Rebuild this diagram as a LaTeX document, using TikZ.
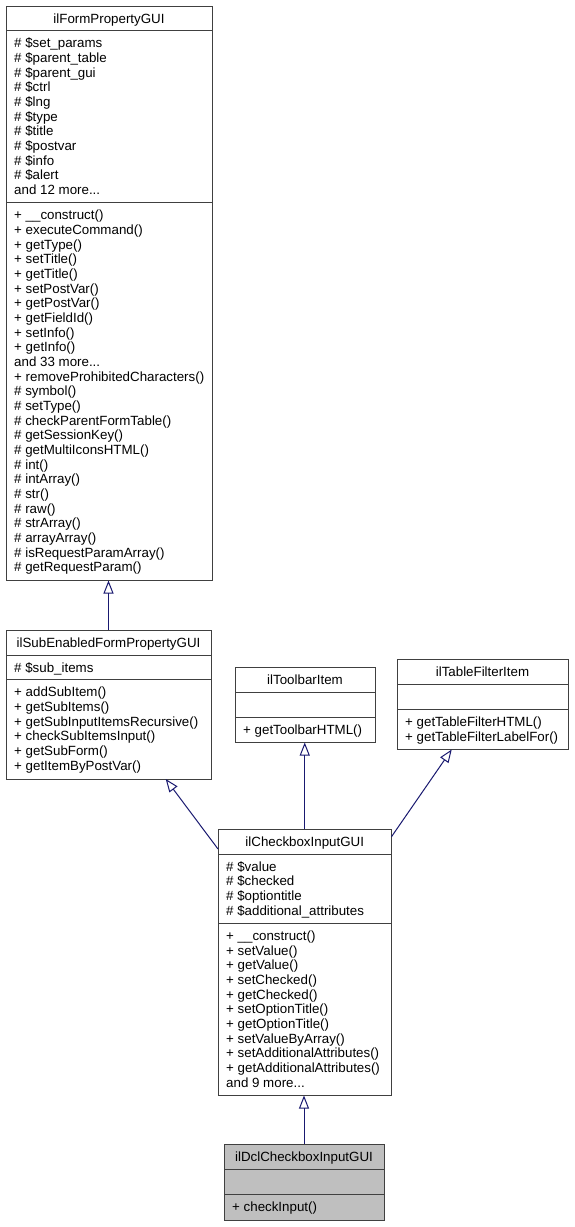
\documentclass[tikz,border=0pt]{standalone}
\usepackage{fontspec}
\setmainfont{Liberation Sans}
\usetikzlibrary{arrows.meta}
\definecolor{boxc}{HTML}{404040}
\definecolor{edgec}{HTML}{191970}
\definecolor{hlc}{HTML}{BFBFBF}
\newcommand\seclines[4]{\foreach \itm [count=\i from 0] in {#4}{\node[txt,anchor=base west] (#1-\i) at ({#2},{#3+\i*14.67}) {\itm};}}
\newcommand\dotsthree{.{}.{}.}
\begin{document}
\begin{tikzpicture}[x=1pt,y=-1pt,
  classbox/.style={draw=boxc,line width=1pt,inner sep=0pt,outer sep=0pt,anchor=north west},
  sepline/.style={draw=boxc,line width=1pt},
  txt/.style={inner sep=0pt,font=\fontsize{13.33}{14.67}\selectfont},
  ttl/.style={txt,anchor=base},
  inherit/.style={draw=edgec,line width=1pt,-{Triangle[open,length=13pt,width=10pt]}}]
\fill[white] (0,0) rectangle (574,1227);
\useasboundingbox (0,0) rectangle (574,1227);

% ilFormPropertyGUI
\node[classbox,minimum width=206pt,minimum height=574.5pt] (FP) at (6,6) {};
\draw[sepline] (6,30.5) -- (212,30.5);
\draw[sepline] (6,202.5) -- (212,202.5);
\node[ttl] (FP-t) at (109,23) {ilFormPropertyGUI};
\seclines{FPa}{14}{47.7}{\# \$set\_params,\# \$parent\_table,\# \$parent\_gui,\# \$ctrl,\# \$lng,\# \$type,\# \$title,\# \$postvar,\# \$info,\# \$alert,and 12 more\dotsthree}
\seclines{FPm}{14}{219.7}{+ \_\_construct(),+ executeCommand(),+ getType(),+ setTitle(),+ getTitle(),+ setPostVar(),+ getPostVar(),+ getFieldId(),+ setInfo(),+ getInfo(),and 33 more\dotsthree,+ removeProhibitedCharacters(),\# symbol(),\# setType(),\# checkParentFormTable(),\# getSessionKey(),\# getMultiIconsHTML(),\# int(),\# intArray(),\# str(),\# raw(),\# strArray(),\# arrayArray(),\# isRequestParamArray(),\# getRequestParam()}

% ilSubEnabledFormPropertyGUI
\node[classbox,minimum width=205pt,minimum height=149pt] (SE) at (6,630) {};
\draw[sepline] (6,655) -- (211,655);
\draw[sepline] (6,679.5) -- (211,679.5);
\node[ttl] (SE-t) at (108.5,647.2) {ilSubEnabledFormPropertyGUI};
\seclines{SEa}{14}{672}{\# \$sub\_items}
\seclines{SEm}{14}{696.7}{+ addSubItem(),+ getSubItems(),+ getSubInputItemsRecursive(),+ checkSubItemsInput(),+ getSubForm(),+ getItemByPostVar()}

% ilToolbarItem
\node[classbox,minimum width=140pt,minimum height=75.5pt] (TB) at (235,667) {};
\draw[sepline] (235,692) -- (375,692);
\draw[sepline] (235,717) -- (375,717);
\node[ttl] (TB-t) at (305,684) {ilToolbarItem};
\seclines{TBm}{243}{734}{+ getToolbarHTML()}

% ilTableFilterItem
\node[classbox,minimum width=171pt,minimum height=90.5pt] (TF) at (397,659) {};
\draw[sepline] (397,684) -- (568,684);
\draw[sepline] (397,709.5) -- (568,709.5);
\node[ttl] (TF-t) at (482.5,676) {ilTableFilterItem};
\seclines{TFm}{405}{726.7}{+ getTableFilterHTML(),+ getTableFilterLabelFor()}

% ilCheckboxInputGUI
\node[classbox,minimum width=173.5pt,minimum height=266.5pt] (CB) at (218,829) {};
\draw[sepline] (218,854) -- (391.5,854);
\draw[sepline] (218,923.4) -- (391.5,923.4);
\node[ttl] (CB-t) at (304.75,846) {ilCheckboxInputGUI};
\seclines{CBa}{226}{871.2}{\# \$value,\# \$checked,\# \$optiontitle,\# \$additional\_attributes}
\seclines{CBm}{226}{940.6}{+ \_\_construct(),+ setValue(),+ getValue(),+ setChecked(),+ getChecked(),+ setOptionTitle(),+ getOptionTitle(),+ setValueByArray(),+ setAdditionalAttributes(),+ getAdditionalAttributes(),and 9 more\dotsthree}

% ilDclCheckboxInputGUI
\node[classbox,fill=hlc,minimum width=160pt,minimum height=76pt] (DC) at (224,1144) {};
\draw[sepline] (224,1169) -- (384,1169);
\draw[sepline] (224,1194.5) -- (384,1194.5);
\node[ttl] (DC-t) at (304,1161) {ilDclCheckboxInputGUI};
\seclines{DCm}{232}{1211.5}{+ checkInput()}

% inheritance connectors
\draw[inherit] (SE.north) -- (SE.north |- FP.south);
\draw[inherit] ([yshift=-20pt]CB.north west) -- ([xshift=57.2pt]SE.south);
\draw[inherit] (CB.north) -- (CB.north |- TB.south);
\draw[inherit] ([yshift=-7.7pt]CB.north east) -- ([xshift=-30.8pt]TF.south);
\draw[inherit] (DC.north) -- (DC.north |- CB.south);
\end{tikzpicture}
\end{document}
